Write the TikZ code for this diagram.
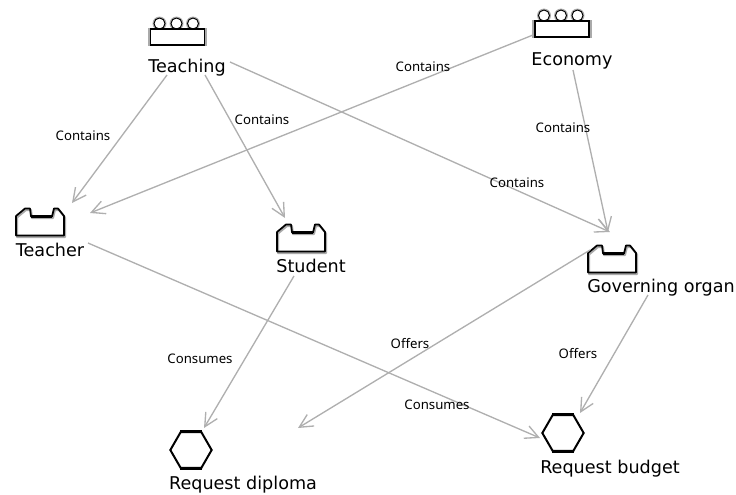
\documentclass[tikz,border=0pt]{standalone}
\usepackage{fontspec}
\setmainfont{DejaVu Sans}
\newfontfamily\edgefont{Noto Sans}
\usetikzlibrary{arrows.meta,shapes.geometric}
\definecolor{conngray}{RGB}{175,175,175}
\definecolor{haloGray}{RGB}{170,170,170}
\tikzset{
    conn/.style = {draw = conngray, line width = 1pt, -{Straight Barb[length = 10pt, width = 10pt, line width = 1pt]}},
    name label/.style = {font = \fontsize{13.2}{15}\selectfont, inner sep = 0pt},
    edge label/.style = {font = \edgefont\fontsize{9.9}{11}\selectfont, inner sep = 0pt},
    icon box/.style = {inner sep = 0pt, minimum width = 36pt, minimum height = 20pt},
    request/.style = {draw, regular polygon, regular polygon sides = 6, inner sep = 0pt, minimum size = 31pt, line width = 1.5pt, fill = white},
    role/.pic = {
        \draw[haloGray, line width = 1.5pt, line join = round, shift = {(1,1.5)}] (-24,13.5) -- (-24,-6) -- (-15,-13.5) -- (-10,-13.5) -- (-9,-5.5) -- (12,-5.5) -- (14,-13.5) -- (18,-13.5) -- (24,-6) -- (24,13.5) -- cycle;
        \draw[line width = 1.3pt, line join = round] (-24,13.5) -- (-24,-6) -- (-15,-13.5) -- (-10,-13.5) -- (-9,-5.5) -- (12,-5.5) -- (14,-13.5) -- (18,-13.5) -- (24,-6) -- (24,13.5) -- cycle;
        \draw[line width = 2.2pt] (-9,-5.5) -- (12,-5.5);
    },
    agent/.pic = {
        \foreach \cx in {-18,-1,15.5} {
            \draw[haloGray, line width = 1.4pt] (\cx,-13.5) circle (6);
            \draw[line width = 0.7pt] (\cx,-13.5) circle (5.5);
        }
        \draw[haloGray, line width = 1.6pt, fill = white] (-28.5,-8) rectangle (28.5,8);
        \draw[line width = 1.2pt] (-27,-8) rectangle (27,8);
    }
}
\begin{document}
\begin{tikzpicture}[x = 0.75pt, y = -0.75pt]
                \useasboundingbox (0,0) rectangle (736,494);
                \node[icon box] (teaching) at (177.5,37) {};
                \node[icon box] (economy) at (562,29) {};
                \node[icon box] (teacher) at (40,222) {};
                \node[icon box] (student) at (301,238) {};
                \node[icon box] (governing) at (612,259) {};
                \node[request] (diploma) at (191,450) {};
                \node[request] (budget) at (563,433) {};
                \foreach \req in {diploma,budget} {
                    \draw[line width = 2.4pt] (\req.corner 1) -- (\req.corner 2);
                    \draw[line width = 2pt] (\req.corner 4) -- (\req.corner 5);
                }
                \pic at (teaching) {agent};
                \pic at (economy) {agent};
                \pic at (teacher) {role};
                \pic at (student) {role};
                \pic at (governing) {role};
                \node[name label] (teachingL) at (187,68) {Teaching};
                \node[name label] (economyL) at (572,61) {Economy};
                \node[name label] (teacherL) at (50,250) {Teacher};
                \node[name label] (studentL) at (311,266) {Student};
                \node[name label] (governingL) at (661,288) {Governing organ};
                \node[name label] (diplomaL) at (243,485) {Request diploma};
                \node[name label] (budgetL) at (610,469) {Request budget};
                \coordinate (offerEnd) at (298,428);
                \draw[conn] ([shift = {(-20,7)}]teachingL.center) -- ([shift = {(32,-19)}]teacher.center);
                \draw[conn] ([shift = {(18,7)}]teachingL.center) -- ([shift = {(-16,-20)}]student.center);
                \draw[conn] ([shift = {(43,-6)}]teachingL.center) -- ([shift = {(-2,-27)}]governing.center);
                \draw[conn] ([shift = {(-29,6)}]economy.center) -- ([shift = {(50,-9)}]teacher.center);
                \draw[conn] ([shift = {(1,9)}]economyL.center) -- ([shift = {(-4,-27)}]governing.center);
                \draw[conn] ([shift = {(38,-7)}]teacherL.center) -- ([shift = {(-23,5)}]budget.center);
                \draw[conn] ([shift = {(-17,10)}]studentL.center) -- ([shift = {(13,-22)}]diploma.center);
                \draw[conn] ([shift = {(-22,-9)}]governing.center) -- (offerEnd);
                \draw[conn] ([shift = {(-13,7)}]governingL.center) -- ([shift = {(17,-20)}]budget.center);
                \node[edge label] (contains1) at (83,135.5) {Contains};
                \node[edge label] (contains2) at (262,119.5) {Contains};
                \node[edge label] (contains3) at (423,66.5) {Contains};
                \node[edge label] (contains4) at (517,182.5) {Contains};
                \node[edge label] (contains5) at (563,127.5) {Contains};
                \node[edge label] (consumes1) at (200,358.5) {Consumes};
                \node[edge label] (consumes2) at (437,404.5) {Consumes};
                \node[edge label] (offers1) at (410,343.5) {Offers};
                \node[edge label] (offers2) at (578,353.5) {Offers};
            \end{tikzpicture}
\end{document}
